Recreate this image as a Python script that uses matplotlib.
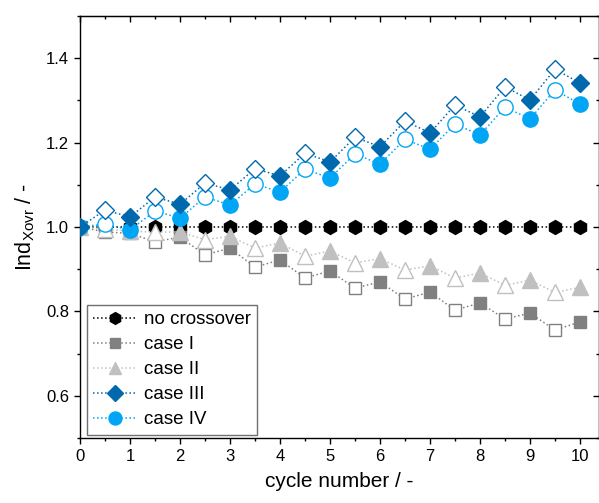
import numpy as np
import matplotlib
matplotlib.use('Agg')
import matplotlib.pyplot as plt
from matplotlib.lines import Line2D
from matplotlib.ticker import MultipleLocator

plt.rcParams['font.family'] = ['Liberation Sans', 'DejaVu Sans']

## values, every half cycle 0 .. 10
cycle = np.arange(21) * 0.5

no_crossover = [1.0] * 21
case_1 = [1.000, 0.988, 0.985, 0.965, 0.976, 0.934, 0.950, 0.905, 0.922, 0.879, 0.896,
          0.855, 0.870, 0.829, 0.846, 0.803, 0.820, 0.782, 0.796, 0.756, 0.775]
case_2 = [1.000, 0.995, 0.990, 0.988, 0.988, 0.970, 0.978, 0.950, 0.962, 0.931, 0.943,
          0.915, 0.925, 0.898, 0.908, 0.879, 0.891, 0.862, 0.874, 0.845, 0.857]
case_3 = [1.000, 1.040, 1.024, 1.071, 1.054, 1.104, 1.088, 1.138, 1.121, 1.175, 1.154,
          1.213, 1.190, 1.251, 1.223, 1.289, 1.261, 1.332, 1.301, 1.374, 1.341]
case_4 = [1.000, 1.007, 0.993, 1.038, 1.021, 1.071, 1.052, 1.102, 1.083, 1.137, 1.116,
          1.173, 1.149, 1.208, 1.184, 1.244, 1.218, 1.284, 1.256, 1.325, 1.291]

labels = ['no crossover', 'case I', 'case II', 'case III', 'case IV']
colours = ['black', '#808080', '#c0c0c0', '#0068ad', '#00a5f5']
markers = ['h', 's', '^', 'D', 'o']
sizes = [10, 9, 11, 9, 11]
zorders = [2, 3, 4, 6, 5]  # case III on top

fig = plt.figure(figsize=(5.99, 5.03), dpi=100)
ax = fig.add_axes([80 / 599, 1 - 438 / 503, 1 - 80 / 599, (438 - 16) / 503])

for i, y in enumerate([no_crossover, case_1, case_2, case_3, case_4]):
    c = colours[i]
    z = zorders[i]
    ax.plot(cycle, y, ls=':', lw=1.1, color=c, zorder=z)
    if i == 0:
        ax.plot(cycle, y, ls='none', marker=markers[i], ms=sizes[i], mfc=c, mec=c, zorder=z)
    else:
        # filled markers on whole cycles, open ones on the half cycles
        ax.plot(cycle, y, ls='none', marker=markers[i], ms=sizes[i], mfc=c, mec=c,
                markevery=(0, 2), zorder=z)
        ax.plot(cycle, y, ls='none', marker=markers[i], ms=sizes[i], mfc='white', mec=c,
                mew=1.0, markevery=(1, 2), zorder=z)

ax.set_xlim(0, 10.38)
ax.set_ylim(0.5, 1.5)
ax.xaxis.set_major_locator(MultipleLocator(1))
ax.xaxis.set_minor_locator(MultipleLocator(0.5))
ax.yaxis.set_major_locator(MultipleLocator(0.2))
ax.yaxis.set_minor_locator(MultipleLocator(0.1))
ax.tick_params(which='both', direction='out', width=1, labelsize=12)
ax.tick_params(which='major', length=4.5)
ax.tick_params(which='minor', length=2.5)
ax.set_yticks([0.6, 0.8, 1.0, 1.2, 1.4])
ax.set_yticklabels(['0.6', '0.8', '1.0', '1.2', '1.4'])
for s in ax.spines.values():
    s.set_linewidth(1)

top = ax.secondary_xaxis('top')
top.xaxis.set_major_locator(MultipleLocator(1))
top.xaxis.set_minor_locator(MultipleLocator(0.5))
top.tick_params(which='both', direction='in', width=1, labelbottom=False, labeltop=False)
top.tick_params(which='major', length=4.5)
top.tick_params(which='minor', length=2.5)
right = ax.secondary_yaxis('right')
right.yaxis.set_major_locator(MultipleLocator(0.2))
right.yaxis.set_minor_locator(MultipleLocator(0.1))
right.tick_params(which='both', direction='in', width=1, labelright=False)
right.tick_params(which='major', length=4.5)
right.tick_params(which='minor', length=2.5)

ax.set_xlabel('cycle number / -', fontsize=15, labelpad=6)
ax.set_ylabel('Ind$_{\\mathregular{Xovr}}$ / -', fontsize=15.5, labelpad=6)

handles = [Line2D([], [], ls=':', lw=1.1, color=colours[i], marker=markers[i],
                  ms=sizes[i] * 0.85, mfc=colours[i], mec=colours[i]) for i in range(5)]
leg = ax.legend(handles, labels, loc='lower left', bbox_to_anchor=(0.013, 0.007),
                borderaxespad=0, fontsize=13.5, frameon=True, fancybox=False,
                framealpha=1, edgecolor='#707070', handlelength=2.3, handletextpad=0.4,
                labelspacing=0.42, borderpad=0.35)
leg.get_frame().set_linewidth(1)

fig.savefig('out.png', dpi=100)
